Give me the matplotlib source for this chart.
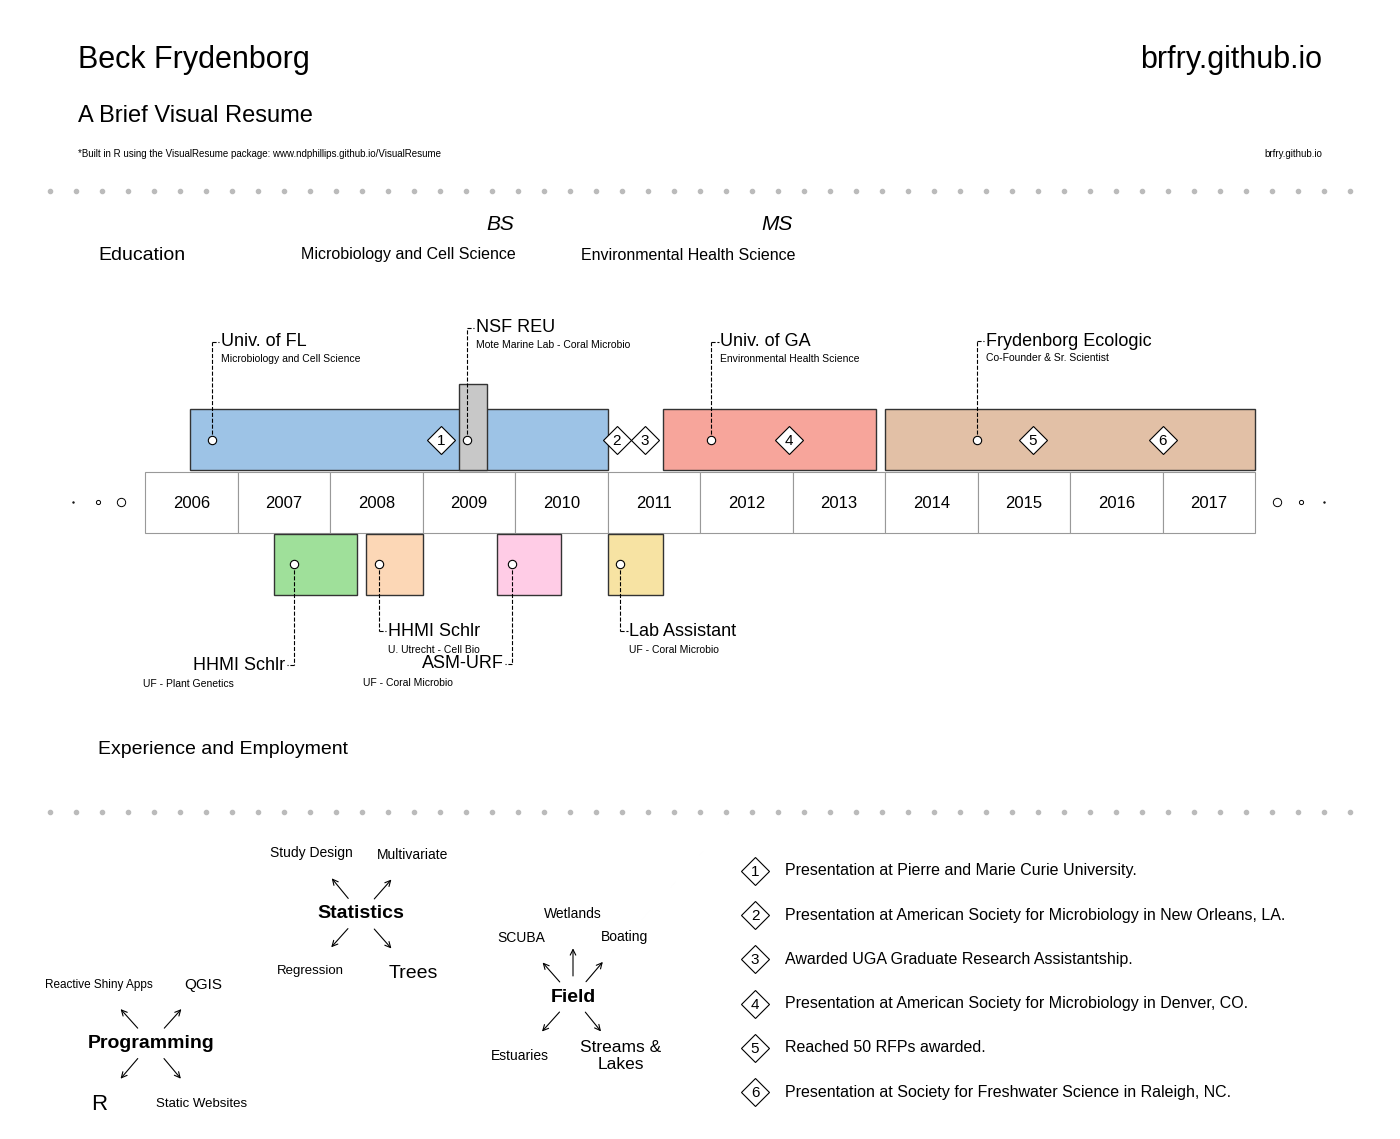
import matplotlib.pyplot as plt
from matplotlib.patches import Rectangle

# ---- data ----
years = list(range(2006, 2018))

edu_names = ["Univ. of FL", "NSF REU", "Univ. of GA", "Frydenborg Ecologic"]
edu_subs = ["Microbiology and Cell Science", "Mote Marine Lab - Coral Microbio",
            "Environmental Health Science", "Co-Founder & Sr. Scientist"]
edu_start = [2006.49, 2009.39, 2011.6, 2014.0]
edu_end = [2011.0, 2009.7, 2013.9, 2018.0]
edu_point = [2006.72, 2009.48, 2012.12, 2014.99]
edu_label_y = [342, 328, 342, 341]
edu_colors = ["#9DC3E6", "#C8C8C8", "#F7A59B", "#E2C0A6"]
edu_top = [409, 384, 409, 409]

exp_names = ["HHMI Schlr", "HHMI Schlr", "ASM-URF", "Lab Assistant"]
exp_subs = ["UF - Plant Genetics", "U. Utrecht - Cell Bio", "UF - Coral Microbio", "UF - Coral Microbio"]
exp_start = [2007.39, 2008.39, 2009.8, 2011.0]
exp_end = [2008.29, 2009.0, 2010.5, 2011.6]
exp_point = [2007.61, 2008.53, 2009.97, 2011.14]
exp_label_y = [665, 631, 664, 631]
exp_side = ["left", "right", "left", "right"]
exp_colors = ["#9FE09A", "#FCD7B6", "#FFCCE6", "#F7E3A3"]

events = [2009.2, 2011.1, 2011.4, 2012.96, 2015.6, 2017.0]
event_text = ["Presentation at Pierre and Marie Curie University.",
              "Presentation at American Society for Microbiology in New Orleans, LA.",
              "Awarded UGA Graduate Research Assistantship.",
              "Presentation at American Society for Microbiology in Denver, CO.",
              "Reached 50 RFPs awarded.",
              "Presentation at Society for Freshwater Science in Raleigh, NC."]

# ---- figure: x in years, y in pixels ----
fig = plt.figure(figsize=(14, 11.39), dpi=100)
ax = fig.add_axes([0, 0, 1, 1])
X0, PPY = 145, 92.5
ax.set_xlim(2006 - X0 / PPY, 2006 + (1400 - X0) / PPY)
ax.set_ylim(1139, 0)
ax.axis("off")
plt.rcParams['font.family'] = ['Liberation Sans', 'DejaVu Sans']

def px(x):
    return 2006 + (x - X0) / PPY

def T(x, y, s, **kw):
    ax.text(px(x), y, s, **kw)

# header
T(78, 60, "Beck Frydenborg", fontsize=22, va="center")
T(1322, 60, "brfry.github.io", fontsize=22, va="center", ha="right")
T(78, 116, "A Brief Visual Resume", fontsize=17, va="center")
T(78, 154, "*Built in R using the VisualResume package: www.ndphillips.github.io/VisualResume", fontsize=7, va="center")
T(1322, 154, "brfry.github.io", fontsize=7, va="center", ha="right")

for yy in (191, 812):
    xs = [px(50 + 26 * i) for i in range(51)]
    ax.plot(xs, [yy] * len(xs), ls="none", marker="o", ms=3, color="#BBBBBB")

# education degrees
T(98, 256, "Education", fontsize=14, va="center")
T(500, 225, "BS", fontsize=15, style="italic", ha="center", va="center")
T(408, 254, "Microbiology and Cell Science", fontsize=11.5, ha="center", va="center")
T(777, 225, "MS", fontsize=15, style="italic", ha="center", va="center")
T(688, 255, "Environmental Health Science", fontsize=11.5, ha="center", va="center")
T(98, 750, "Experience and Employment", fontsize=14, va="center")

# year boxes
for y in years:
    ax.add_patch(Rectangle((y, 472), 1, 61, fc="white", ec="#999999", lw=0.8))
    ax.text(y + 0.5, 503, str(y), ha="center", va="center", fontsize=12)
for x, s in [(73, 1), (98, 3), (121, 6), (1277, 6), (1301, 3), (1324, 1)]:
    ax.plot(px(x), 502, "o", ms=s, mfc="white", mec="black", mew=0.7)

# education bars
for i in range(len(edu_names)):
    ax.add_patch(Rectangle((edu_start[i], edu_top[i]), edu_end[i] - edu_start[i], 470 - edu_top[i],
                           fc=edu_colors[i], ec="#333333", lw=1))
for i in range(len(edu_names)):
    p = edu_point[i]
    ly = edu_label_y[i]
    ax.plot([p, p], [440, ly], ls="--", color="black", lw=0.8)
    ax.plot([p, p + 0.08], [ly, ly], ls="--", color="black", lw=0.8)
    ax.plot(p, 440, "o", ms=6, mfc="white", mec="black", mew=0.8)
    ax.text(p + 0.1, ly, edu_names[i], fontsize=13, va="center")
    ax.text(p + 0.1, ly + 17, edu_subs[i], fontsize=7.5, va="center")

# experience boxes
for i in range(len(exp_names)):
    ax.add_patch(Rectangle((exp_start[i], 534), exp_end[i] - exp_start[i], 61,
                           fc=exp_colors[i], ec="#333333", lw=1))
    p = exp_point[i]
    ly = exp_label_y[i]
    d = -0.08 if exp_side[i] == "left" else 0.08
    ax.plot([p, p], [564, ly], ls="--", color="black", lw=0.8)
    ax.plot([p, p + d], [ly, ly], ls="--", color="black", lw=0.8)
    ax.plot(p, 564, "o", ms=6, mfc="white", mec="black", mew=0.8)
    ha = "right" if exp_side[i] == "left" else "left"
    ax.text(p + d * 1.2, ly, exp_names[i], fontsize=13, va="center", ha=ha)
    ax.text(p + d * 1.2 - (0.55 if ha == "right" else 0), ly + 19, exp_subs[i], fontsize=7.5, va="center", ha=ha)

# events
for i, e in enumerate(events):
    ax.plot(e, 440, "D", ms=14, mfc="white", mec="black", mew=0.8)
    ax.text(e, 441, str(i + 1), ha="center", va="center", fontsize=11)
    yy = 871 + i * 44.2
    ax.plot(px(755), yy, "D", ms=14, mfc="white", mec="black", mew=0.8)
    T(755, yy + 1, str(i + 1), ha="center", va="center", fontsize=11)
    T(785, yy, event_text[i], va="center", fontsize=11.5)

# skill networks
def network(cx, cy, title, items):
    T(cx, cy, title, fontsize=14, weight="bold", ha="center", va="center")
    for (tx, ty, s, fs) in items:
        T(tx, ty, s, fontsize=fs, ha="center", va="center")
        dx, dy = tx - cx, ty - cy
        ax.annotate("", xy=(px(cx + dx * 0.62), cy + dy * 0.62),
                    xytext=(px(cx + dx * 0.22), cy + dy * 0.22 + (6 if dy < 0 else -6) * 0),
                    arrowprops=dict(arrowstyle="->", lw=0.8))

network(361, 914, "Statistics", [(311, 853, "Study Design", 10), (413, 855, "Multivariate", 10),
                                 (310, 971, "Regression", 9.5), (413, 973, "Trees", 14)])
network(573, 997, "Field", [(573, 914, "Wetlands", 10), (521, 938, "SCUBA", 10), (624, 937, "Boating", 10),
                            (520, 1056, "Estuaries", 10), (621, 1056, "Streams &\nLakes", 12.5)])
network(151, 1043, "Programming", [(99, 985, "Reactive Shiny Apps", 8.5), (203, 985, "QGIS", 11),
                                   (99, 1104, "R", 16), (202, 1104, "Static Websites", 9.5)])

plt.savefig("out.png")
